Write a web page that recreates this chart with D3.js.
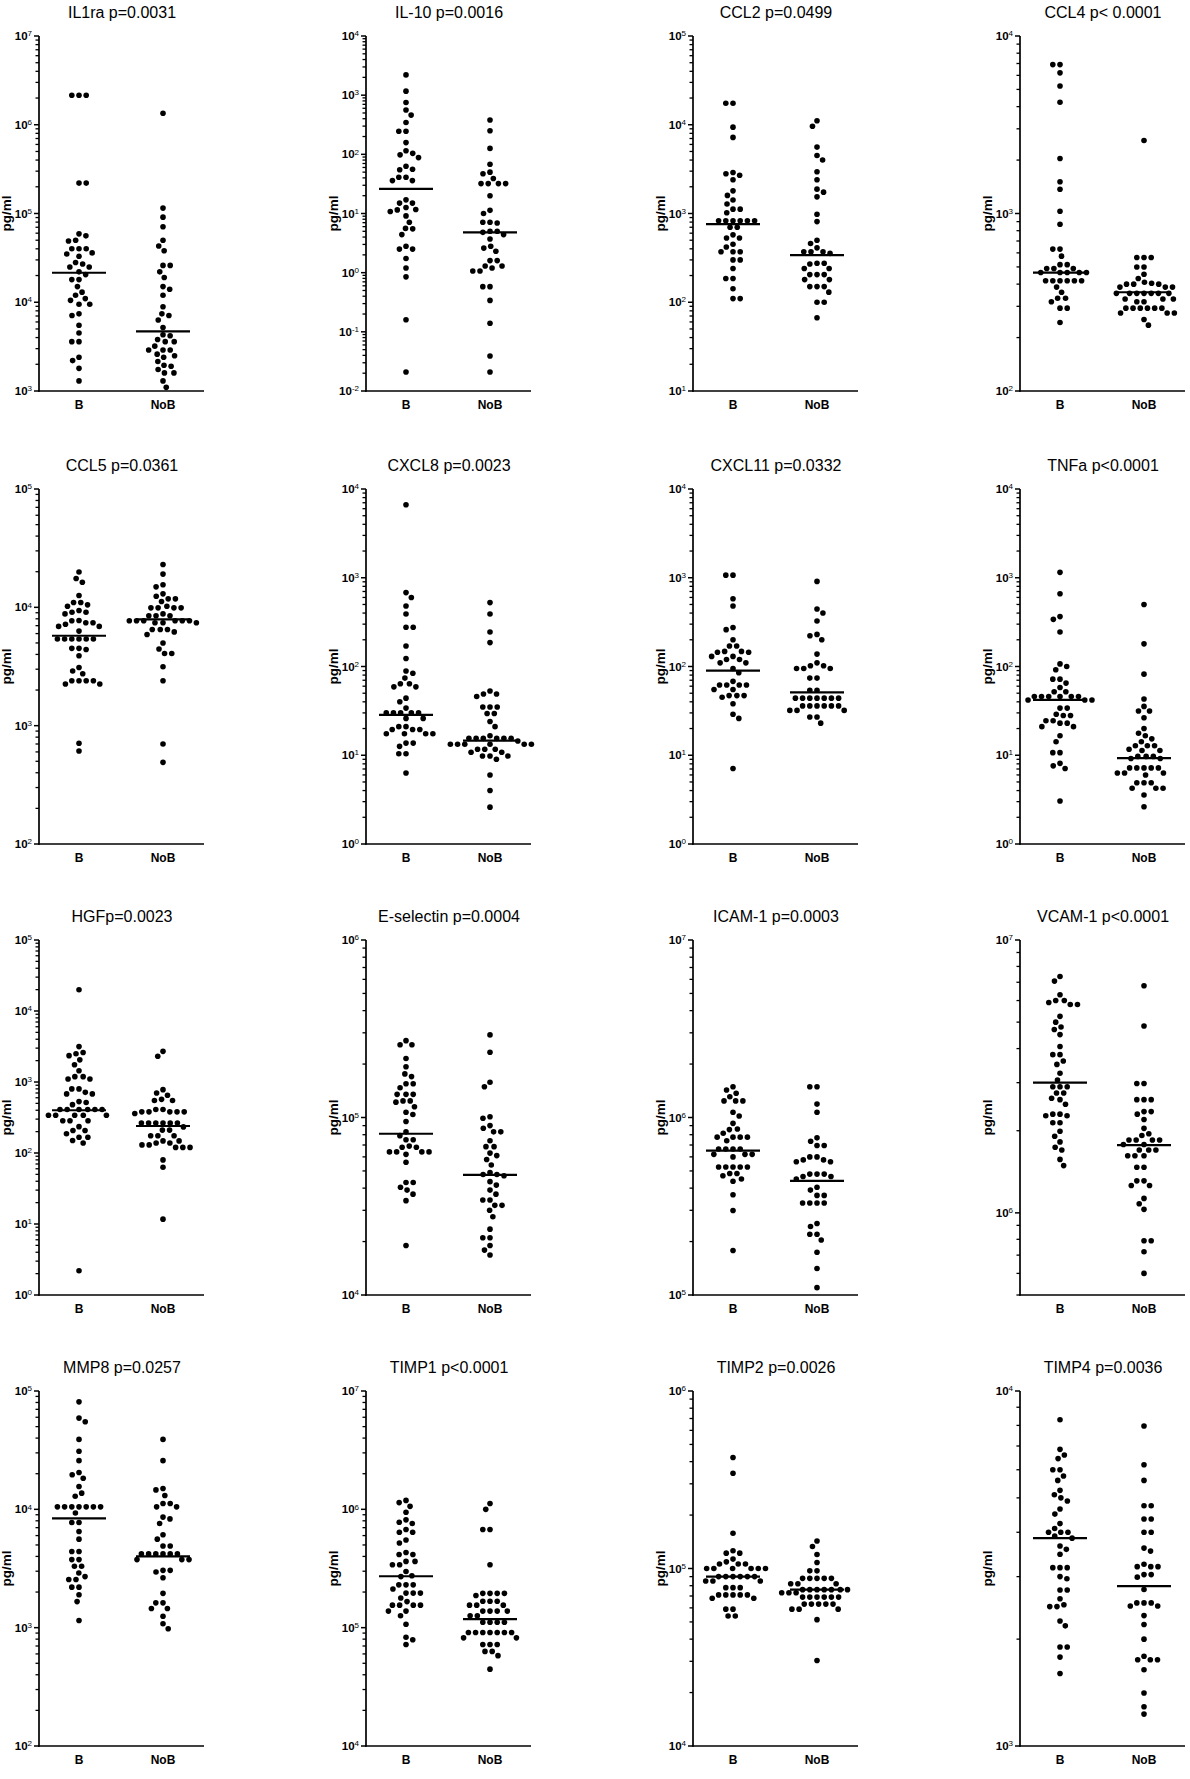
<!DOCTYPE html>
<html>
<head>
<meta charset="utf-8">
<script src="https://cdn.jsdelivr.net/npm/d3@7"></script>
<style>
  html, body { margin: 0; padding: 0; background: #fff; }
  svg { display: block; }
  text { font-family: "Liberation Sans", Arial, sans-serif; fill: #000; }
</style>
</head>
<body>
<svg id="chart" width="1190" height="1779"></svg>
<script>
// ---------------- DATA (pg/ml) ----------------
const groups = ["B", "NoB"];

const titles = ["IL1ra p=0.0031", "IL-10 p=0.0016", "CCL2 p=0.0499", "CCL4 p< 0.0001",
  "CCL5 p=0.0361", "CXCL8 p=0.0023", "CXCL11 p=0.0332", "TNFa p<0.0001",
  "HGFp=0.0023", "E-selectin p=0.0004", "ICAM-1 p=0.0003", "VCAM-1 p<0.0001",
  "MMP8 p=0.0257", "TIMP1 p<0.0001", "TIMP2 p=0.0026", "TIMP4 p=0.0036"];

const yMin = [1e3, 1e-2, 1e1, 1e2, 1e2, 1e0, 1e0, 1e0, 1e0, 1e4, 1e5, 5e5, 1e2, 1e4, 1e4, 1e3];
const yMax = [1e7, 1e4, 1e5, 1e4, 1e5, 1e4, 1e4, 1e4, 1e5, 1e6, 1e7, 1e7, 1e5, 1e7, 1e6, 1e4];

const medianB   = [21500, 26, 760, 465, 5750, 28.5, 90, 42, 400, 81000, 650000, 3000000, 8400, 272000, 90000, 3850];
const medianNoB = [4700, 4.8, 340, 360, 7900, 14.6, 51, 9.3, 240, 47500, 440000, 1770000, 4000, 118000, 76000, 2820];

const il1raB = [2150000, 2150000, 2150000, 220000, 220000, 59000, 56000, 50000, 49000, 40000, 40000, 40000, 36000, 35000, 33000, 28000, 27000, 25000, 25000, 22000, 20500, 18000, 18000, 15000, 13000, 12000, 11000, 10500, 9500, 9500, 7400, 7100, 5500, 4500, 3600, 3600, 2400, 2200, 1800, 1300];
const il1raNoB = [1350000, 115000, 91000, 71000, 50000, 43000, 38000, 26000, 26000, 22000, 19000, 15000, 14000, 12000, 8900, 7400, 7100, 6300, 5200, 4300, 4200, 3800, 3600, 3600, 3200, 2900, 2900, 2900, 2600, 2500, 2400, 2150, 1950, 1900, 1750, 1600, 1600, 1300, 1100];

const il10B = [2200, 1170, 750, 560, 460, 345, 245, 245, 158, 115, 104, 98, 88, 63, 56, 55, 41, 41, 36, 36, 17, 15, 15, 12.6, 11.7, 11.5, 10.8, 9.1, 7.1, 5.6, 5.5, 4.4, 2.8, 2.5, 2.5, 1.74, 1.2, 0.85, 0.16, 0.021];
const il10NoB = [380, 250, 126, 68, 50, 47, 39, 32, 32, 32, 32, 20, 11.3, 10, 7.1, 7.1, 6.9, 5, 5, 4.8, 4.4, 3.7, 2.8, 2.6, 2.3, 1.6, 1.6, 1.3, 1.3, 1.2, 1.07, 1.07, 0.58, 0.58, 0.34, 0.14, 0.039, 0.021];

const ccl2B = [17500, 17500, 9400, 7200, 2900, 2800, 2700, 2400, 1800, 1600, 1420, 1280, 1120, 1120, 1020, 830, 830, 830, 830, 830, 830, 700, 700, 575, 530, 530, 450, 420, 370, 370, 370, 300, 300, 240, 185, 185, 142, 110, 110];
const ccl2NoB = [11100, 9600, 5600, 4500, 4000, 2950, 2400, 1880, 1740, 1540, 980, 810, 500, 460, 410, 370, 370, 370, 355, 275, 275, 270, 240, 240, 205, 205, 205, 180, 180, 150, 150, 150, 130, 100, 100, 67];

const ccl4B = [6900, 6900, 6200, 5230, 4230, 2040, 1510, 1370, 1030, 870, 630, 630, 575, 515, 515, 490, 490, 490, 465, 465, 465, 465, 465, 418, 418, 418, 418, 418, 418, 385, 360, 333, 333, 318, 293, 293, 243];
const ccl4NoB = [2580, 565, 565, 565, 500, 500, 455, 430, 410, 405, 400, 400, 400, 385, 385, 385, 355, 355, 355, 355, 355, 355, 355, 330, 330, 330, 318, 318, 293, 293, 293, 293, 293, 293, 275, 275, 275, 253, 235];

const ccl5B = [19900, 17500, 16300, 12600, 11000, 11000, 10500, 10200, 9400, 9100, 9100, 8800, 7750, 7700, 7400, 7400, 7200, 6900, 6900, 6300, 5400, 5400, 5400, 5400, 5400, 5400, 4500, 4500, 4400, 3900, 3100, 2900, 2750, 2400, 2400, 2400, 2400, 2250, 2250, 710, 610];
const ccl5NoB = [23000, 19100, 15500, 14900, 13000, 12400, 11800, 11800, 11200, 10200, 9900, 9900, 9900, 9900, 8800, 8500, 8500, 8500, 7700, 7700, 7700, 7700, 7700, 7700, 7400, 7400, 7400, 6500, 6500, 6500, 6200, 5900, 5000, 4450, 4070, 4070, 3150, 2400, 700, 490];

const cxcl8B = [6650, 680, 600, 480, 390, 277, 277, 170, 123, 89, 84, 74, 64, 64, 59, 59, 44, 40, 34, 30, 30, 30, 30, 30, 26, 26, 21, 21, 19.5, 19.5, 19.5, 17.5, 17.5, 17.5, 17.5, 13.7, 13.7, 12.6, 10.4, 10.4, 6.3];
const cxcl8NoB = [525, 390, 245, 186, 53, 49, 49, 46, 35, 35, 35, 29.5, 29.5, 24, 21, 16.6, 15.5, 15.5, 15.5, 15.5, 15.5, 15.5, 14.5, 13.3, 13.3, 13.3, 13.3, 13.3, 13.3, 11.7, 11.7, 11.7, 10.8, 10.8, 9.8, 9.8, 9.8, 9, 6, 4, 2.6];

const cxcl11B = [1070, 1070, 580, 480, 275, 260, 200, 170, 170, 148, 148, 145, 145, 130, 130, 120, 120, 110, 110, 95, 85, 68, 62, 62, 62, 62, 55, 55, 47, 47, 47, 45, 38, 29, 26, 7.1];
const cxcl11NoB = [910, 445, 400, 325, 230, 222, 200, 138, 110, 102, 102, 95, 95, 95, 74, 74, 54, 54, 44, 44, 44, 44, 44, 44, 44, 36, 36, 36, 36, 36, 36, 32, 32, 32, 27, 27, 23];

const tnfaB = [1150, 660, 365, 340, 245, 107, 100, 92, 72, 72, 65, 58, 52, 52, 46, 46, 46, 46, 46, 46, 42, 42, 42, 34, 34, 29, 28, 28, 24.5, 24.5, 23, 23, 21, 21, 16.6, 14.2, 10.7, 10.7, 8.1, 7.6, 7.1, 3.05];
const tnfaNoB = [500, 180, 82, 43, 35.5, 31.5, 31.5, 26.5, 20, 17.7, 16.6, 15.3, 14.2, 12.8, 12.8, 12.8, 11.7, 11.3, 11.3, 9.7, 9.7, 9.7, 9.2, 9.2, 7.2, 7.2, 7.2, 7.2, 7.2, 6.3, 6.3, 6.3, 6, 4.9, 4.9, 4.9, 4.25, 4.25, 4.25, 3.56, 2.63];

const hgfB = [19900, 3150, 2600, 2500, 2350, 2050, 1750, 1440, 1190, 1190, 1100, 1100, 800, 800, 715, 680, 680, 530, 515, 480, 410, 410, 410, 410, 410, 410, 340, 340, 340, 340, 340, 285, 285, 285, 235, 207, 207, 187, 167, 167, 150, 138, 2.2];
const hgfNoB = [2700, 2300, 780, 700, 650, 570, 550, 550, 410, 410, 380, 380, 380, 380, 380, 360, 265, 265, 265, 265, 265, 265, 233, 210, 210, 175, 175, 175, 148, 148, 138, 138, 130, 130, 120, 120, 120, 80, 63, 11.7];

const eselB = [271000, 257000, 257000, 215000, 193000, 176000, 170000, 155000, 155000, 147000, 135000, 135000, 135000, 124000, 124000, 122000, 115000, 107000, 104000, 95000, 83000, 79000, 75000, 75000, 69000, 68000, 68000, 64000, 64000, 64000, 64000, 62000, 56000, 43000, 43000, 40500, 39000, 37000, 34000, 19000];
const eselNoB = [292000, 233000, 158000, 149000, 101000, 99000, 90000, 87000, 83000, 83000, 74000, 68500, 68500, 63000, 61000, 58000, 54000, 49000, 47700, 47700, 47000, 43500, 41600, 39000, 37000, 34300, 34300, 32000, 32000, 30000, 27600, 23500, 21000, 21000, 19000, 17900, 16800];

const icamB = [1490000, 1430000, 1370000, 1310000, 1240000, 1240000, 1240000, 1070000, 1020000, 927000, 861000, 855000, 815000, 775000, 775000, 775000, 775000, 740000, 665000, 665000, 665000, 665000, 620000, 620000, 620000, 600000, 526000, 526000, 526000, 526000, 526000, 484000, 484000, 470000, 450000, 437000, 367000, 299000, 178000];
const icamNoB = [1490000, 1490000, 1190000, 1070000, 768000, 735000, 695000, 695000, 600000, 600000, 577000, 577000, 563000, 563000, 480000, 480000, 480000, 465000, 465000, 450000, 405000, 390000, 364000, 364000, 330000, 330000, 330000, 330000, 253000, 243000, 220000, 220000, 204000, 174000, 141000, 110000];

const vcamB = [7350000, 7070000, 6300000, 6000000, 6000000, 5900000, 5800000, 5800000, 5250000, 5000000, 4800000, 4700000, 4500000, 4070000, 3800000, 3800000, 3600000, 3500000, 3250000, 3070000, 2900000, 2900000, 2900000, 2750000, 2750000, 2630000, 2600000, 2500000, 2300000, 2300000, 2270000, 2270000, 2140000, 2140000, 1990000, 1910000, 1820000, 1740000, 1700000, 1570000, 1490000];
const vcamNoB = [6800000, 4840000, 2980000, 2980000, 2600000, 2600000, 2600000, 2350000, 2350000, 2300000, 2200000, 2040000, 1950000, 1920000, 1850000, 1850000, 1850000, 1850000, 1780000, 1780000, 1700000, 1700000, 1700000, 1620000, 1620000, 1620000, 1470000, 1470000, 1310000, 1310000, 1260000, 1260000, 1130000, 1080000, 1030000, 790000, 790000, 720000, 600000];

const mmp8B = [81000, 59000, 55000, 39000, 31000, 25800, 20500, 19600, 18300, 15600, 13700, 12900, 10500, 10500, 10500, 10500, 10500, 10500, 10500, 9300, 7750, 7750, 6500, 5600, 4400, 4400, 3760, 3760, 3300, 3300, 2900, 2700, 2550, 2550, 2200, 2200, 1900, 1660, 1150];
const mmp8NoB = [39000, 25800, 15000, 14600, 13100, 11200, 11200, 10500, 10500, 8600, 8300, 7600, 6100, 5600, 4900, 4900, 4200, 4200, 4200, 4200, 4200, 4200, 3760, 3760, 3760, 3050, 3050, 2950, 2640, 1950, 1620, 1620, 1450, 1450, 1250, 1080, 980];

const timp1B = [1190000, 1140000, 1060000, 944000, 815000, 777000, 760000, 675000, 640000, 640000, 550000, 520000, 432000, 415000, 415000, 363000, 363000, 340000, 340000, 298000, 275000, 270000, 230000, 230000, 230000, 212000, 196000, 196000, 196000, 178000, 166000, 155000, 155000, 155000, 155000, 138000, 138000, 126000, 107000, 83000, 79000, 72000];
const timp1NoB = [1120000, 1000000, 675000, 675000, 340000, 195000, 195000, 195000, 195000, 187000, 167000, 167000, 167000, 155000, 155000, 155000, 138000, 138000, 138000, 138000, 126000, 126000, 111000, 111000, 111000, 111000, 91000, 91000, 91000, 91000, 91000, 91000, 91000, 82000, 82000, 72000, 72000, 72000, 63000, 63000, 58000, 44600];

const timp2B = [422000, 344000, 158000, 126000, 122000, 122000, 113000, 109000, 106000, 106000, 106000, 100000, 100000, 100000, 100000, 100000, 100000, 90000, 90000, 90000, 90000, 90000, 90000, 85000, 85000, 85000, 78000, 78000, 78000, 71000, 71000, 71000, 71000, 71000, 68000, 68000, 59000, 59000, 54000, 54000];
const timp2NoB = [143000, 133000, 120000, 108000, 97000, 97000, 88000, 88000, 88000, 88000, 88000, 82000, 82000, 82000, 76000, 76000, 76000, 76000, 76000, 76000, 76000, 73000, 73000, 73000, 69000, 69000, 69000, 69000, 69000, 69000, 63000, 63000, 63000, 63000, 63000, 59000, 59000, 59000, 51500, 30300];

const timp4B = [8300, 6850, 6600, 6450, 6000, 6000, 5760, 5600, 5250, 5100, 5000, 4900, 4650, 4500, 4230, 4100, 4000, 4000, 4000, 3900, 3850, 3660, 3580, 3470, 3180, 3180, 3180, 3000, 2960, 2750, 2750, 2600, 2500, 2470, 2470, 2250, 2180, 1900, 1900, 1780, 1600];
const timp4NoB = [7970, 6200, 5600, 4750, 4750, 4360, 4360, 4000, 4000, 3610, 3540, 3250, 3200, 3200, 3200, 3040, 3040, 2990, 2760, 2530, 2530, 2530, 2480, 2480, 2330, 2200, 2000, 1790, 1750, 1750, 1750, 1640, 1410, 1290, 1230];

const seriesB = [il1raB, il10B, ccl2B, ccl4B, ccl5B, cxcl8B, cxcl11B, tnfaB, hgfB, eselB, icamB, vcamB, mmp8B, timp1B, timp2B, timp4B];
const seriesNoB = [il1raNoB, il10NoB, ccl2NoB, ccl4NoB, ccl5NoB, cxcl8NoB, cxcl11NoB, tnfaNoB, hgfNoB, eselNoB, icamNoB, vcamNoB, mmp8NoB, timp1NoB, timp2NoB, timp4NoB];

// ---------------- LAYOUT ----------------
const colX = [39, 366, 693, 1020];      // y-axis x position per column
const rowTop = [36, 489, 940, 1391];    // y of axis top per row
const plotH = 355;
const axisLen = 165;
const R = 2.8;
const D = 7.2;

const svg = d3.select("#chart");
svg.append("rect").attr("width", 1190).attr("height", 1779).attr("fill", "#fff");

function swarm(vals, y) {
  const pts = vals.map(v => ({ v, y: y(v) })).sort((a, b) => a.y - b.y);
  const placed = [];
  pts.forEach((p, idx) => {
    const ivs = [];
    placed.forEach(q => {
      const dy = Math.abs(p.y - q.y);
      if (dy < D) {
        const w = Math.sqrt(D * D - dy * dy);
        ivs.push([q.x - w, q.x + w]);
      }
    });
    const cands = [0];
    ivs.forEach(iv => { cands.push(iv[0], iv[1]); });
    cands.sort((a, b) => Math.abs(a) - Math.abs(b) || (idx % 2 ? a - b : b - a));
    let chosen = 0;
    for (const c of cands) {
      if (ivs.every(iv => c <= iv[0] + 1e-6 || c >= iv[1] - 1e-6)) { chosen = c; break; }
    }
    p.x = chosen;
    placed.push(p);
  });
  return placed;
}

titles.forEach((title, i) => {
  const r = Math.floor(i / 4), c = i % 4;
  const ax = colX[c], top = rowTop[r], bottom = top + plotH;
  const g = svg.append("g");

  const y = d3.scaleLog().domain([yMin[i], yMax[i]]).range([bottom, top]);
  const x = d3.scalePoint().domain(groups).range([ax + 40, ax + 124]);

  // title
  g.append("text").attr("x", ax + 83).attr("y", top - 18)
    .attr("text-anchor", "middle").attr("font-size", 16).text(title);

  // ticks
  const lo = Math.floor(Math.log10(yMin[i]) + 1e-9), hi = Math.round(Math.log10(yMax[i]));
  const major = [], minor = [];
  for (let e = lo; e <= hi; e++) {
    const m = Math.pow(10, e);
    if (m >= yMin[i] * 0.9999 && m <= yMax[i] * 1.0001) major.push(e);
    if (e < hi) for (let k = 2; k <= 9; k++) {
      const v = k * m;
      if (v >= yMin[i] * 0.9999 && v <= yMax[i] * 1.0001) minor.push(v);
    }
  }
  minor.forEach(v => {
    g.append("line").attr("x1", ax - 3.5).attr("x2", ax).attr("y1", y(v)).attr("y2", y(v))
      .attr("stroke", "#000").attr("stroke-width", 1.3);
  });
  major.forEach(e => {
    const yy = y(Math.pow(10, e));
    g.append("line").attr("x1", ax - 5).attr("x2", ax).attr("y1", yy).attr("y2", yy)
      .attr("stroke", "#000").attr("stroke-width", 1.5);
    const t = g.append("text").attr("x", ax - 7).attr("y", yy + 4)
      .attr("text-anchor", "end").attr("font-weight", "bold").attr("font-size", 11.5);
    t.append("tspan").text("10");
    t.append("tspan").attr("dy", -3.8).attr("font-size", 8).attr("font-weight", "normal").text(String(e));
  });

  // axes lines
  g.append("line").attr("x1", ax).attr("x2", ax).attr("y1", top).attr("y2", bottom + 0.8)
    .attr("stroke", "#000").attr("stroke-width", 1.7);
  g.append("line").attr("x1", ax - 0.8).attr("x2", ax + axisLen).attr("y1", bottom).attr("y2", bottom)
    .attr("stroke", "#000").attr("stroke-width", 1.7);

  // x labels
  groups.forEach(gn => {
    g.append("text").attr("x", x(gn)).attr("y", bottom + 18)
      .attr("text-anchor", "middle").attr("font-weight", "bold").attr("font-size", 12).text(gn);
  });

  // y label
  g.append("text")
    .attr("transform", `translate(${ax - 28},${(top + bottom) / 2}) rotate(-90)`)
    .attr("text-anchor", "middle").attr("font-weight", "bold").attr("font-size", 13.5).text("pg/ml");

  // points
  [seriesB[i], seriesNoB[i]].forEach((vals, gi) => {
    const cx = x(groups[gi]);
    swarm(vals, y).forEach(p => {
      g.append("circle").attr("cx", cx + p.x).attr("cy", p.y).attr("r", R).attr("fill", "#000");
    });
    const med = gi === 0 ? medianB[i] : medianNoB[i];
    g.append("line").attr("x1", cx - 27).attr("x2", cx + 27).attr("y1", y(med)).attr("y2", y(med))
      .attr("stroke", "#000").attr("stroke-width", 2.2);
  });
});
</script>
</body>
</html>
